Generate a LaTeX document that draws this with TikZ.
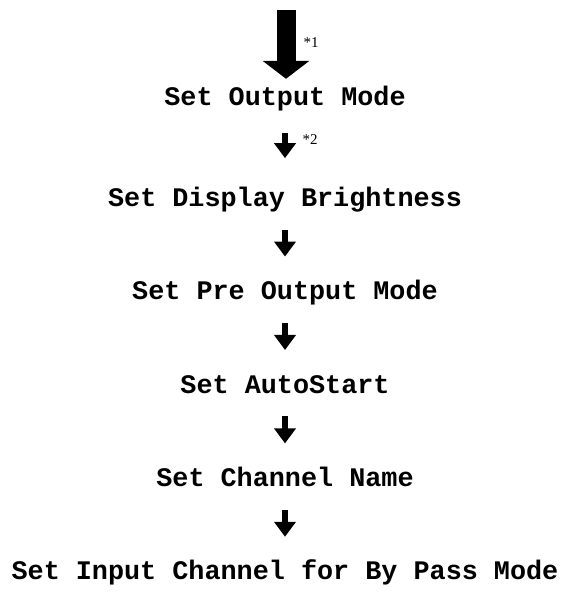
\documentclass[tikz,border=0pt]{standalone}
\usepackage{fontspec}
\setmainfont{Liberation Serif}
\setmonofont{Liberation Mono}
\usetikzlibrary{positioning}
\usetikzlibrary{arrows.meta}

\tikzset{
  stage/.style={font=\ttfamily\bfseries\fontsize{26.8}{26.8}\selectfont,
    text height=16pt, text depth=5pt, inner sep=0pt},
  note/.style={font=\fontsize{15}{15}\selectfont, inner sep=0pt},
  bigarrow/.style={line width=19pt, -{Triangle[width=46pt,length=18pt]}},
  smallarrow/.style={line width=5.5pt, -{Triangle[width=21pt,length=15pt]},
    shorten <=18pt, shorten >=27pt}
}

\begin{document}
\begin{tikzpicture}[x=1pt, y=1pt, node distance=72pt]
    \useasboundingbox (0,0) rectangle (566,600);

    % Define nodes
    \node[stage, anchor=base] (out) at (285,494) {Set Output Mode};
    \node[stage, below=79pt of out] (disp) {Set Display Brightness};
    \node[stage, below=of disp] (pre) {Set Pre Output Mode};
    \node[stage, below=of pre] (auto) {Set AutoStart};
    \node[stage, below=of auto] (chan) {Set Channel Name};
    \node[stage, below=of chan] (input) {Set Input Channel for By Pass Mode};
    \coordinate (start) at (286,590);
    \node[note] (mark1) at (311,557) {*1};
    \node[note] (mark2) at (310,460) {*2};

    % Connect the nodes
    \draw[bigarrow, shorten >=11pt] (start) -- (start |- out.north);
    \draw[smallarrow, shorten <=22pt, shorten >=32pt] (out) -- (disp);
    \draw[smallarrow] (disp) -- (pre);
    \draw[smallarrow] (pre) -- (auto);
    \draw[smallarrow] (auto) -- (chan);
    \draw[smallarrow] (chan) -- (input);

\end{tikzpicture}
\end{document}
